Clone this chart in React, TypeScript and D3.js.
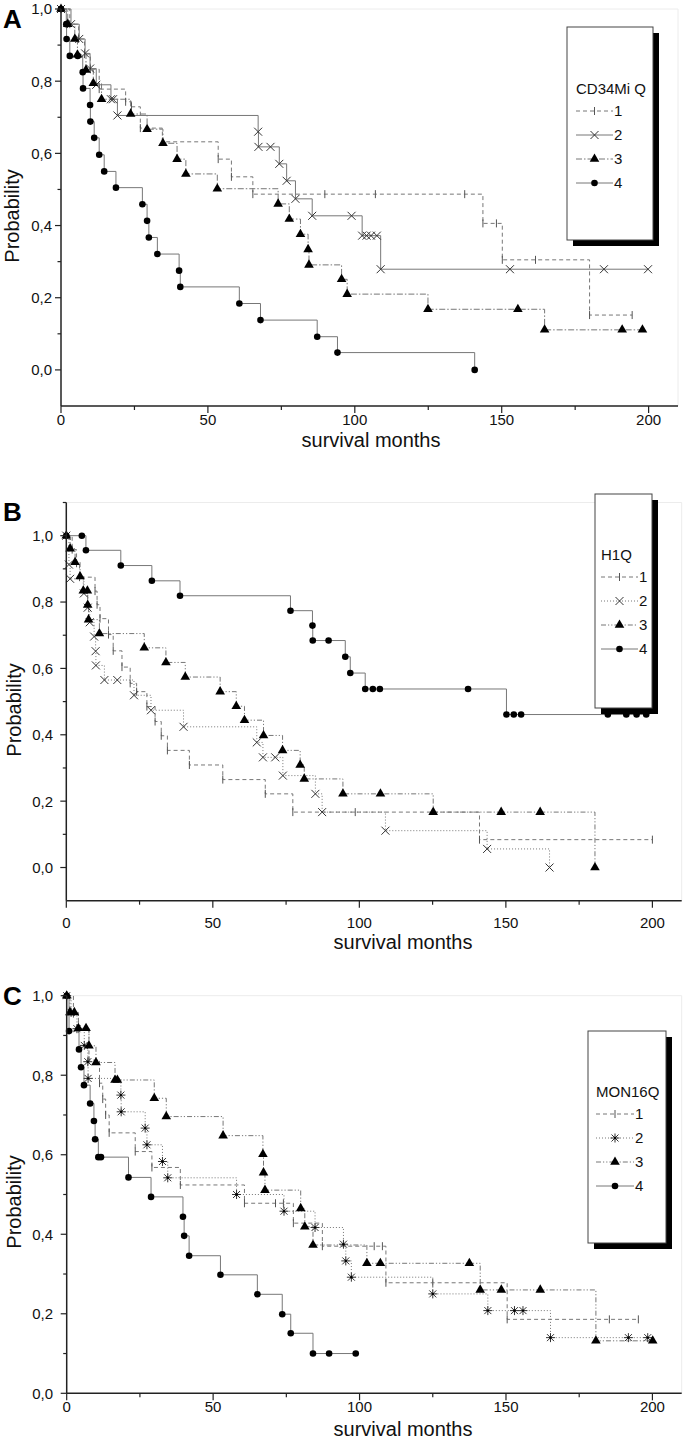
import React from "react";
import * as d3 from "d3";

type Pt = [number, number];

// ---- panel A : CD34Mi Q  (survival months, probability)
const aQ1: Pt[] = [[0, 1], [3, 0.958], [6, 0.917], [8, 0.875], [10, 0.833], [13, 0.778], [22, 0.743], [24, 0.729], [27, 0.67], [34.5, 0.632], [53.5, 0.584], [58, 0.535], [65.3, 0.487], [89.8, 0.487], [107, 0.487], [137.4, 0.487], [143.6, 0.406], [148.2, 0.406], [150.2, 0.305], [161.5, 0.305], [179.9, 0.152], [194.4, 0.152]];
const aQ2: Pt[] = [[0, 1], [3.4, 0.958], [6.2, 0.917], [8.2, 0.877], [9.9, 0.835], [12, 0.79], [17, 0.75], [17.7, 0.75], [19.2, 0.705], [67.1, 0.66], [67.2, 0.618], [71.3, 0.618], [74.3, 0.571], [76.8, 0.524], [79.8, 0.474], [85.5, 0.427], [98.9, 0.427], [102.5, 0.372], [104, 0.372], [105.5, 0.372], [107.5, 0.372], [108.8, 0.279], [152.8, 0.279], [184.8, 0.279], [199.8, 0.279]];
const aQ3: Pt[] = [[0, 1], [2.3, 0.958], [4.7, 0.917], [5.6, 0.873], [8.5, 0.831], [11, 0.794], [13.8, 0.75], [23.7, 0.709], [29.3, 0.667], [34.7, 0.628], [39.5, 0.584], [42.5, 0.543], [53.2, 0.502], [73.9, 0.46], [77.7, 0.418], [81.5, 0.376], [84.1, 0.334], [84.4, 0.291], [95.5, 0.251], [97.4, 0.21], [124.9, 0.168], [155.5, 0.168], [164.6, 0.111], [191, 0.111], [197.9, 0.111]];
const aQ4: Pt[] = [[0, 1], [1.8, 0.958], [1.9, 0.917], [3, 0.87], [5.7, 0.87], [7.4, 0.825], [7.5, 0.78], [9.9, 0.734], [10, 0.688], [11.3, 0.643], [13, 0.596], [14.7, 0.55], [18.7, 0.505], [27.7, 0.459], [29.3, 0.413], [29.9, 0.367], [32.8, 0.321], [40.2, 0.275], [40.6, 0.23], [60.7, 0.184], [67.9, 0.138], [87.2, 0.092], [94.1, 0.048], [140.8, 0]];

// ---- panel B : H1Q
const bQ1: Pt[] = [[0, 1], [2, 0.958], [3.5, 0.917], [4.5, 0.875], [9.8, 0.833], [10.5, 0.792], [11.5, 0.75], [14.4, 0.702], [16, 0.653], [19, 0.604], [21.8, 0.555], [24, 0.53], [27.5, 0.485], [30.3, 0.44], [32.4, 0.397], [34.5, 0.353], [42, 0.309], [53.4, 0.265], [67.9, 0.222], [77.3, 0.167], [98.6, 0.167], [141, 0.084], [200, 0.084]];
const bQ2: Pt[] = [[0, 1], [0.9, 0.913], [1.3, 0.87], [6, 0.826], [7.3, 0.783], [8, 0.739], [9.5, 0.696], [10, 0.652], [10.1, 0.609], [13, 0.565], [17.4, 0.565], [23.1, 0.519], [28.9, 0.474], [40, 0.424], [65, 0.377], [67.1, 0.332], [71.3, 0.332], [73.9, 0.277], [85, 0.222], [87.3, 0.167], [108.9, 0.111], [143.6, 0.056], [164.9, 0]];
const bQ3: Pt[] = [[0, 1], [1.3, 0.961], [3, 0.92], [4.7, 0.877], [5.8, 0.834], [7.2, 0.834], [7.3, 0.791], [7.6, 0.747], [11.3, 0.705], [26.6, 0.662], [34, 0.618], [40.6, 0.574], [52.5, 0.53], [58, 0.486], [60.8, 0.444], [67.3, 0.398], [73.8, 0.353], [79.8, 0.309], [81.2, 0.267], [94.4, 0.222], [107.2, 0.222], [125.2, 0.167], [148.4, 0.167], [161.7, 0.167], [180.4, 0]];
const bQ4: Pt[] = [[0, 1], [5.3, 1], [6.7, 0.956], [18.6, 0.91], [29.2, 0.864], [38.8, 0.819], [76.5, 0.774], [84, 0.729], [84.1, 0.684], [89.5, 0.684], [95.2, 0.635], [96.9, 0.586], [102, 0.538], [104.6, 0.538], [107, 0.538], [137.1, 0.538], [150.2, 0.461], [152.7, 0.461], [155.2, 0.461], [184.8, 0.461], [191.1, 0.461], [194.6, 0.461], [197.9, 0.461]];

// ---- panel C : MON16Q
const cQ1: Pt[] = [[0, 1], [2.3, 0.955], [4, 0.917], [7.6, 0.838], [11.2, 0.78], [12.3, 0.74], [13.3, 0.7], [14.5, 0.655], [23.4, 0.608], [29.1, 0.568], [38.8, 0.524], [60.7, 0.478], [71.3, 0.478], [74, 0.478], [77.4, 0.428], [87.3, 0.37], [105, 0.37], [107.8, 0.37], [109, 0.278], [125, 0.278], [150.4, 0.186], [185.3, 0.186], [195.2, 0.186]];
const cQ2: Pt[] = [[0, 1], [1.5, 0.958], [3.5, 0.917], [6, 0.875], [7.2, 0.834], [7.3, 0.792], [18.5, 0.75], [18.6, 0.708], [26.8, 0.667], [27.4, 0.625], [32.7, 0.583], [34.5, 0.542], [58, 0.5], [74.2, 0.458], [84.8, 0.417], [94.5, 0.375], [95.3, 0.333], [97.2, 0.292], [125, 0.25], [143.8, 0.208], [152.9, 0.208], [155.8, 0.208], [165.2, 0.14], [191.8, 0.14], [198.4, 0.14]];
const cQ3: Pt[] = [[0, 1], [1.1, 0.958], [2.6, 0.958], [4, 0.918], [6.6, 0.918], [7.6, 0.874], [10, 0.832], [16.5, 0.788], [17.3, 0.788], [29.9, 0.742], [34, 0.696], [53.4, 0.648], [67, 0.601], [67.2, 0.555], [67.7, 0.511], [79.9, 0.465], [81.3, 0.419], [84.1, 0.373], [102.5, 0.327], [107.1, 0.327], [137.5, 0.327], [141.2, 0.26], [148.4, 0.26], [161.7, 0.26], [180.7, 0.132], [200.1, 0.132]];
const cQ4: Pt[] = [[0, 1], [0.8, 0.911], [4.2, 0.865], [4.9, 0.82], [5.9, 0.775], [8, 0.729], [9.3, 0.685], [9.7, 0.639], [10.8, 0.594], [11.7, 0.594], [21.1, 0.543], [28.8, 0.494], [39.7, 0.444], [40.1, 0.396], [41.8, 0.346], [52.5, 0.298], [65.1, 0.249], [73.6, 0.199], [76.5, 0.151], [84.1, 0.1], [89.6, 0.1], [98.7, 0.1]];

const xTickVals = [0, 50, 100, 150, 200];
const xMinorVals = [25, 75, 125, 175];
const yTickVals = [0, 0.2, 0.4, 0.6, 0.8, 1.0];
const yMinorAC = [0.1, 0.3, 0.5, 0.7, 0.9];
const yMinorB = [0.1, 0.3, 0.5, 0.7, 0.9, 1.1];
const groupLabels = ["1", "2", "3", "4"];

const FONT = "Arial, 'Liberation Sans', Helvetica, sans-serif";
const LINE = "#777";

type Style = { dash: string | undefined; marker: string };

const dashes: Record<string, string | undefined> = {
  solid: undefined,
  dash: "4,3",
  dot: "1,2",
  dashdot: "6,2,1.5,2",
  dashdotdot: "5,2,1.2,2,1.2,2",
};

const panels = [
  {
    letter: "A", title: "CD34Mi Q",
    series: [aQ1, aQ2, aQ3, aQ4],
    styles: [
      { dash: dashes.dash, marker: "tick" },
      { dash: dashes.solid, marker: "x" },
      { dash: dashes.dashdot, marker: "tri" },
      { dash: dashes.solid, marker: "dot" },
    ] as Style[],
    xr: [61, 678], yr: [406, 9], yd: [-0.1, 1.0], yMinor: yMinorAC,
    letterAt: [3, 28], yLab: [19, 216], xLab: [371, 447], tickY: 425, yTickX: 52,
    legend: { x: 567, y: 27, w: 86, h: 213, tx: 576, ty: 94, row0: 111, step: 24, lx: [576, 613] },
  },
  {
    letter: "B", title: "H1Q",
    series: [bQ1, bQ2, bQ3, bQ4],
    styles: [
      { dash: dashes.dash, marker: "tick" },
      { dash: dashes.dot, marker: "x" },
      { dash: dashes.dashdotdot, marker: "tri" },
      { dash: dashes.solid, marker: "dot" },
    ] as Style[],
    xr: [66.3, 681.7], yr: [900.7, 502.5], yd: [-0.1, 1.1], yMinor: yMinorB,
    letterAt: [3, 521], yLab: [21, 710], xLab: [403, 949], tickY: 928, yTickX: 53,
    legend: { x: 595, y: 494, w: 57, h: 214, tx: 601, ty: 560, row0: 577, step: 24, lx: [601, 638] },
  },
  {
    letter: "C", title: "MON16Q",
    series: [cQ1, cQ2, cQ3, cQ4],
    styles: [
      { dash: dashes.dash, marker: "tick" },
      { dash: dashes.dot, marker: "star" },
      { dash: dashes.dashdotdot, marker: "tri" },
      { dash: dashes.solid, marker: "dot" },
    ] as Style[],
    xr: [66.7, 681.7], yr: [1393.3, 995.7], yd: [0, 1.0], yMinor: yMinorAC,
    letterAt: [3, 1005], yLab: [21, 1202], xLab: [403, 1436], tickY: 1412, yTickX: 53,
    legend: { x: 588, y: 1031, w: 78, h: 212, tx: 596, ty: 1097, row0: 1114, step: 24, lx: [596, 634] },
  },
];

const triPath = d3.symbol().type(d3.symbolTriangle).size(40)() as string;

function Marker({ kind, x, y }: { kind: string; x: number; y: number }) {
  if (kind === "tick")
    return <line x1={x} x2={x} y1={y - 4} y2={y + 4} stroke="#555" strokeWidth={1} />;
  if (kind === "x")
    return (
      <path d={`M${x - 4},${y - 4}L${x + 4},${y + 4}M${x - 4},${y + 4}L${x + 4},${y - 4}`}
        stroke="#333" strokeWidth={1} fill="none" />
    );
  if (kind === "star")
    return (
      <g stroke="#333" strokeWidth={1}>
        <path d={`M${x - 3.5},${y - 3.5}L${x + 3.5},${y + 3.5}M${x - 3.5},${y + 3.5}L${x + 3.5},${y - 3.5}M${x},${y - 4.5}L${x},${y + 4.5}M${x - 4.5},${y}L${x + 4.5},${y}`} />
        <circle cx={x} cy={y} r={1.2} fill="#000" stroke="none" />
      </g>
    );
  if (kind === "tri")
    return <path d={triPath} transform={`translate(${x},${y})`} fill="#000" />;
  return <circle cx={x} cy={y} r={3.3} fill="#000" />;
}

function Panel({ p }: { p: (typeof panels)[number] }) {
  const x = d3.scaleLinear().domain([0, 210]).range(p.xr);
  const y = d3.scaleLinear().domain(p.yd).range(p.yr);
  const line = d3.line<Pt>().x((d) => x(d[0])).y((d) => y(d[1])).curve(d3.curveStepAfter);
  const fmt = (v: number) => d3.format(".1f")(v).replace(".", ",");
  const lg = p.legend;
  const [x0, x1] = p.xr;
  const [yb, yt] = p.yr;

  return (
    <g>
      {/* faint frame */}
      <path d={`M${x0},${yt}H${x1}V${yb}`} fill="none" stroke="#ececec" strokeWidth={1} />

      {/* legend box with shadow */}
      <rect x={lg.x + 6} y={lg.y + 6} width={lg.w} height={lg.h} fill="#000" />
      <rect x={lg.x} y={lg.y} width={lg.w} height={lg.h} fill="#fff" stroke="#444" strokeWidth={1} />
      <text x={lg.tx} y={lg.ty} fontSize={15} fontFamily={FONT} fill="#111">{p.title}</text>
      {groupLabels.map((g, i) => {
        const ry = lg.row0 + i * lg.step;
        const st = p.styles[i];
        return (
          <g key={g}>
            <line x1={lg.lx[0]} x2={lg.lx[1]} y1={ry} y2={ry} stroke={LINE} strokeDasharray={st.dash} />
            <Marker kind={st.marker} x={(lg.lx[0] + lg.lx[1]) / 2} y={ry} />
            <text x={lg.lx[1] + 1} y={ry} dy="0.36em" fontSize={15} fontFamily={FONT} fill="#111">{g}</text>
          </g>
        );
      })}

      {/* survival curves */}
      {p.series.map((s, i) => (
        <path key={"l" + i} d={line(s) as string} fill="none" stroke={LINE} strokeWidth={1}
          strokeDasharray={p.styles[i].dash} />
      ))}
      {p.series.map((s, i) => (
        <g key={"m" + i}>
          {s.map((d, j) => (
            <Marker key={j} kind={p.styles[i].marker} x={x(d[0])} y={y(d[1])} />
          ))}
        </g>
      ))}

      {/* axes */}
      <line x1={x0} x2={x0} y1={yt} y2={yb} stroke="#222" strokeWidth={1.5} />
      <line x1={x0} x2={x1} y1={yb} y2={yb} stroke="#222" strokeWidth={1.5} />
      {yTickVals.map((v) => (
        <g key={"yt" + v}>
          <line x1={x0 - 6} x2={x0} y1={y(v)} y2={y(v)} stroke="#222" strokeWidth={1.2} />
          <text x={p.yTickX} y={y(v)} dy="0.36em" textAnchor="end" fontSize={15} fontFamily={FONT} fill="#111">{fmt(v)}</text>
        </g>
      ))}
      {p.yMinor.map((v) => (
        <line key={"ym" + v} x1={x0 - 3.5} x2={x0} y1={y(v)} y2={y(v)} stroke="#222" strokeWidth={1.2} />
      ))}
      {xTickVals.map((v) => (
        <g key={"xt" + v}>
          <line x1={x(v)} x2={x(v)} y1={yb} y2={yb + 7} stroke="#222" strokeWidth={1.2} />
          <text x={x(v)} y={p.tickY} textAnchor="middle" fontSize={15} fontFamily={FONT} fill="#111">{v}</text>
        </g>
      ))}
      {xMinorVals.map((v) => (
        <line key={"xm" + v} x1={x(v)} x2={x(v)} y1={yb} y2={yb + 4} stroke="#222" strokeWidth={1.2} />
      ))}

      {/* labels */}
      <text x={p.xLab[0]} y={p.xLab[1]} textAnchor="middle" fontSize={20} fontFamily={FONT} fill="#111">survival months</text>
      <text transform={`translate(${p.yLab[0]},${p.yLab[1]}) rotate(-90)`} textAnchor="middle" fontSize={20}
        fontFamily={FONT} fill="#111">Probability</text>
      <text x={p.letterAt[0]} y={p.letterAt[1]} fontSize={26} fontWeight="bold" fontFamily={FONT} fill="#000">{p.letter}</text>
    </g>
  );
}

export default function App() {
  return (
    <svg width={685} height={1440} style={{ position: "absolute", left: 0, top: 0, background: "#fff" }}>
      <rect width={685} height={1440} fill="#fff" />
      {panels.map((p) => (
        <Panel key={p.letter} p={p} />
      ))}
    </svg>
  );
}
